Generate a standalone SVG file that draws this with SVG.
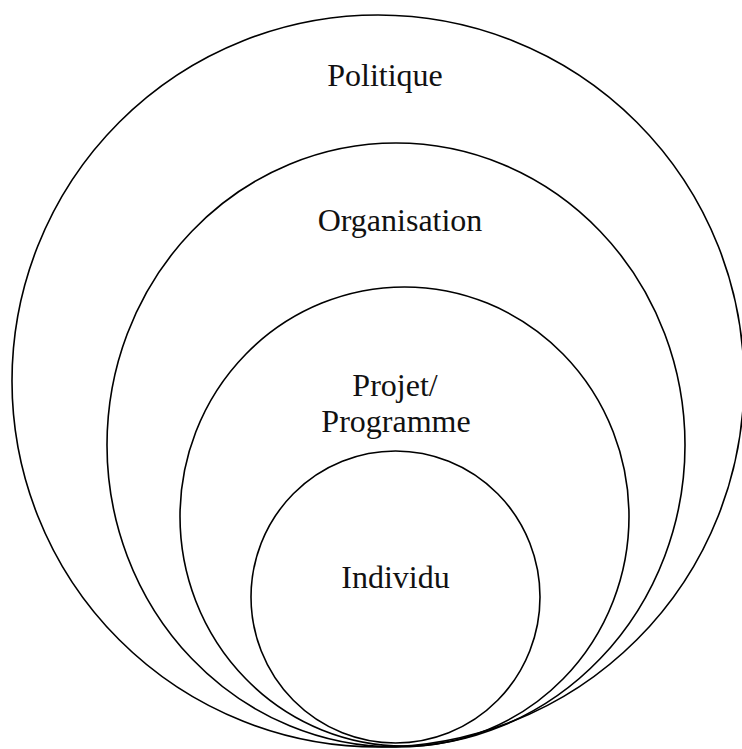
<svg xmlns="http://www.w3.org/2000/svg" width="742" height="749" viewBox="0 0 742 749">
<style>
.ring{fill:none;stroke:#000;stroke-width:1.6}
.lbl{font-family:"Liberation Serif","Times New Roman",serif;font-size:32px;fill:#111;text-anchor:middle}
</style>
<rect width="742" height="749" fill="#fff"/>
<g id="politique">
<ellipse class="ring" cx="378" cy="381" rx="366" ry="366"/>
<text class="lbl" x="385" y="86">Politique</text>
</g>
<g id="organisation">
<ellipse class="ring" cx="396" cy="445" rx="289" ry="302"/>
<text class="lbl" x="400" y="231">Organisation</text>
</g>
<g id="projet">
<ellipse class="ring" cx="404.5" cy="516.5" rx="224.5" ry="229.5"/>
<text class="lbl" x="395" y="396">Projet/</text>
<text class="lbl" x="396" y="432">Programme</text>
</g>
<g id="individu">
<ellipse class="ring" cx="395.5" cy="597" rx="144.5" ry="146"/>
<text class="lbl" x="395.5" y="588">Individu</text>
</g>
<g id="connectors"/>
</svg>
